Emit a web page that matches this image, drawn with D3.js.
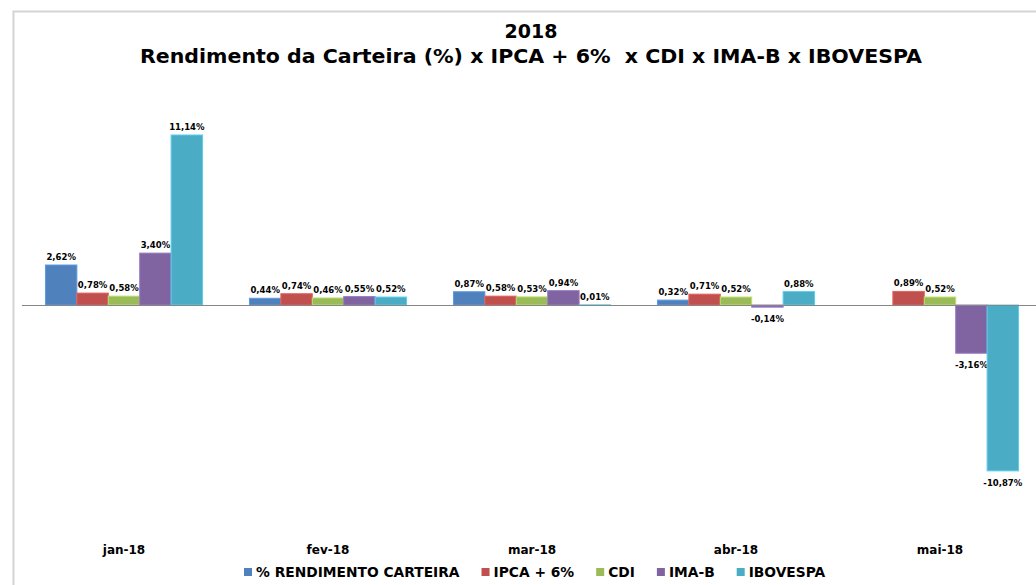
<!DOCTYPE html>
<html>
<head>
<meta charset="utf-8">
<script src="https://cdn.jsdelivr.net/npm/d3@7"></script>
<style>
  body { margin: 0; background: #fff; }
  svg { display: block; font-family: "DejaVu Sans", Verdana, sans-serif; }
</style>
</head>
<body>
<svg width="1036" height="585"></svg>
<script>
// data
const months = ["jan-18", "fev-18", "mar-18", "abr-18", "mai-18"]
const seriesNames = ["% RENDIMENTO CARTEIRA", "IPCA + 6%", "CDI", "IMA-B", "IBOVESPA"]
const seriesColors = ["#4f81bd", "#c0504d", "#9bbb59", "#8064a2", "#4bacc6"]
const carteira = [2.62, 0.44, 0.87, 0.32, null]
const ipca6 = [0.78, 0.74, 0.58, 0.71, 0.89]
const cdi = [0.58, 0.46, 0.53, 0.52, 0.52]
const imab = [3.40, 0.55, 0.94, -0.14, -3.16]
const ibovespa = [11.14, 0.52, 0.01, 0.88, -10.87]
const allSeries = [carteira, ipca6, cdi, imab, ibovespa]

const svg = d3.select("svg")

// chart frame (only left and top edges are visible in the crop)
svg.append("path")
    .attr("d", "M13.5,585 L13.5,11.5 L1036,11.5")
    .attr("fill", "none")
    .attr("stroke", "#d4d4d4")
    .attr("stroke-width", 2)

// title
const title = svg.append("text")
    .attr("text-anchor", "middle")
    .attr("font-weight", "bold")
    .attr("font-size", 19)
    .attr("fill", "#000")
    .style("white-space", "pre")
title.append("tspan").attr("x", 531).attr("y", 38).text("2018")
title.append("tspan").attr("x", 531).attr("y", 63)
    .attr("textLength", 782).attr("lengthAdjust", "spacingAndGlyphs")
    .text("Rendimento da Carteira (%) x IPCA + 6%  x CDI x IMA-B x IBOVESPA")

// scales
const x = d3.scaleBand().domain(months).range([22, 1042])
    .paddingInner(0.23).paddingOuter(0.115)
const xs = d3.scaleBand().domain(d3.range(seriesNames.length)).range([0, x.bandwidth()])
const y = d3.scaleLinear().domain([-12, 12]).range([305 + 12 * 15.26, 305 - 12 * 15.26])

const fmt = v => d3.format(".2f")(v).replace(".", ",").replace("\u2212", "-") + "%"

allSeries.forEach((vals, si) => {
    const pts = months.map((m, mi) => ({m: m, v: vals[mi]})).filter(d => d.v !== null)
    const col = d3.color(seriesColors[si])
    svg.selectAll("rect.s" + si)
        .data(pts)
        .join("rect")
        .attr("class", "s" + si)
        .attr("x", d => x(d.m) + xs(si))
        .attr("width", xs.bandwidth())
        .attr("y", d => Math.min(y(d.v), y(0)))
        .attr("height", d => Math.abs(y(d.v) - y(0)))
        .attr("fill", col.formatHex())
        .attr("stroke", col.brighter(0.5).formatHex())
        .attr("stroke-width", 1)

    svg.selectAll("text.l" + si)
        .data(pts)
        .join("text")
        .attr("class", "l" + si)
        .attr("x", d => x(d.m) + xs(si) + xs.bandwidth() / 2)
        .attr("y", d => d.v >= 0 ? y(d.v) - 5 : y(d.v) + 15)
        .attr("text-anchor", "middle")
        .attr("font-size", 8.5)
        .attr("font-weight", "bold")
        .attr("fill", "#000")
        .text(d => fmt(d.v))
})

// zero line
svg.append("line")
    .attr("x1", 22).attr("x2", 1036)
    .attr("y1", y(0) + 0.5).attr("y2", y(0) + 0.5)
    .attr("stroke", "#868686")
    .attr("stroke-width", 1)

// category labels
svg.selectAll("text.cat")
    .data(months)
    .join("text")
    .attr("class", "cat")
    .attr("x", d => x(d) + x.bandwidth() / 2)
    .attr("y", 554)
    .attr("text-anchor", "middle")
    .attr("font-size", 12)
    .attr("font-weight", "bold")
    .text(d => d)

// legend
const legend = svg.append("g")
let lx = 244
seriesNames.forEach((name, i) => {
    legend.append("rect")
        .attr("x", lx).attr("y", 568)
        .attr("width", 8).attr("height", 8)
        .attr("fill", seriesColors[i])
    const t = legend.append("text")
        .attr("x", lx + 12).attr("y", 577)
        .attr("font-size", 13.8)
        .attr("font-weight", "bold")
        .text(name)
    lx += 12 + t.node().getComputedTextLength() + 22
})
</script>
</body>
</html>
